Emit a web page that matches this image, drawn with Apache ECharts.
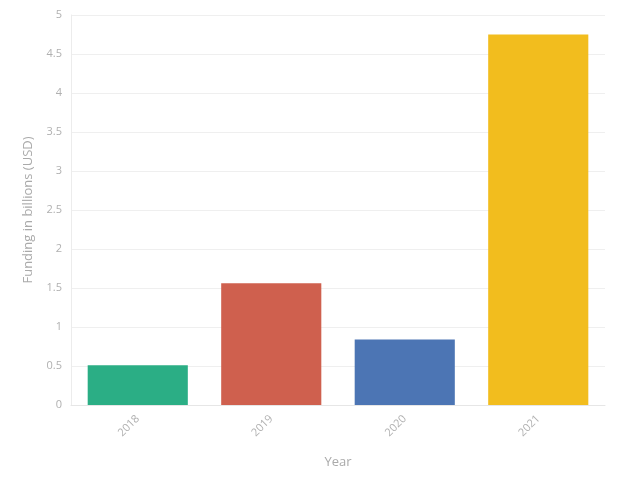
<!DOCTYPE html>
<html>
<head>
<meta charset="utf-8">
<script src="https://cdn.jsdelivr.net/npm/echarts@6/dist/echarts.min.js"></script>
<style>
  html, body { margin: 0; padding: 0; background: #fff; }
  #main { width: 640px; height: 482px; }
</style>
</head>
<body>
<div id="main"></div>
<script>
// 数据
var years = ['2018', '2019', '2020', '2021'];
var funding = [0.51, 1.56, 0.84, 4.75];
var barColors = ['#2BAE85', '#CF604E', '#4C75B4', '#F2BD1E'];

var myChart = echarts.init(document.getElementById('main'));

var option = {
    textStyle: { fontFamily: 'Open Sans' },
    grid: {
        left: 71,
        right: 35,
        top: 15,
        bottom: 77
    },
    xAxis: {
        type: 'category',
        data: years,
        name: 'Year',
        nameLocation: 'middle',
        nameGap: 51,
        nameTextStyle: { color: '#aaaaaa', fontSize: 13 },
        axisTick: { show: false },
        axisLine: { lineStyle: { color: '#e6e6e6' } },
        axisLabel: {
            rotate: 45,
            color: '#b0b0b0',
            fontSize: 11,
            margin: 12
        }
    },
    yAxis: {
        type: 'value',
        min: 0,
        max: 5,
        interval: 0.5,
        name: 'Funding in billions (USD)',
        nameLocation: 'middle',
        nameGap: 36,
        nameTextStyle: { color: '#aaaaaa', fontSize: 13 },
        axisLine: { show: true, lineStyle: { color: '#ececec' } },
        axisTick: { show: false },
        axisLabel: { color: '#b0b0b0', fontSize: 11, margin: 9 },
        splitLine: { lineStyle: { color: '#efefef' } }
    },
    series: [
        {
            type: 'bar',
            data: funding,
            barWidth: '75%',
            itemStyle: {
                color: function (params) {
                    return barColors[params.dataIndex];
                }
            }
        }
    ]
};

myChart.setOption(option);
</script>
</body>
</html>
